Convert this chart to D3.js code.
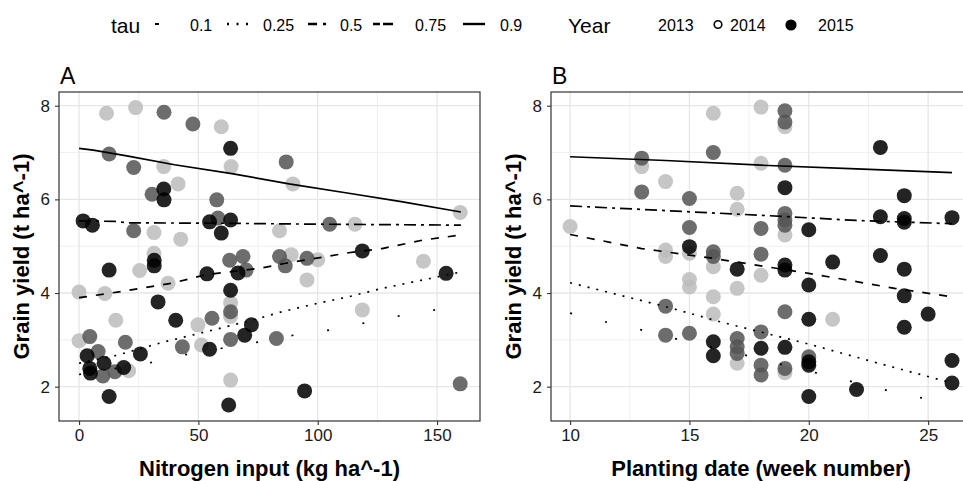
<!DOCTYPE html>
<html>
<head>
<meta charset="utf-8">
<script src="https://cdn.jsdelivr.net/npm/d3@7"></script>
<style>
  body { margin: 0; background: #fff; }
  text { font-family: "Liberation Sans", Arial, sans-serif; }
</style>
</head>
<body>
<div id="chart"></div>
<script>
// legend entries
const tauLevels = ['0.1', '0.25', '0.5', '0.75', '0.9'];
const years = ['2013', '2014', '2015'];

// panel A: nitrogen input (kg ha^-1) vs grain yield
const nitro2013 = [[11.5,7.84],[23.7,7.96],[59.6,7.55],[35.5,6.70],[63.7,6.70],[41.5,6.33],[89.6,6.33],
  [31.4,5.29],[42.6,5.15],[84,5.33],[115.6,5.47],[159.7,5.72],[31.4,4.85],[88.9,4.82],[100,4.71],
  [144.3,4.68],[25.4,4.48],[0,4.02],[10.8,3.99],[37.3,4.21],[95.5,4.28],[63.5,3.79],[63.5,3.5],[49.8,3.32],
  [15.4,3.42],[0,2.98],[51.3,2.89],[20.8,2.34],[63.5,2.14],[118.7,3.64]];
const nitro2014 = [[35.6,7.86],[47.7,7.61],[12.6,6.97],[22.9,6.68],[86.8,6.80],[30.6,6.11],[57.7,5.99],
  [22.9,5.33],[58.2,5.60],[105,5.47],[63.1,4.70],[68.7,4.78],[84,4.78],[86.4,4.58],[95.5,4.74],[70,4.49],
  [63.5,3.60],[55.7,3.46],[4.5,3.07],[19.4,2.95],[63.5,3.01],[82.7,3.03],[43.3,2.85],[8,2.75],[10,2.23],
  [15,2.32],[159.7,2.06]];
const nitro2015 = [[63.5,7.09],[35.5,6.22],[35.6,5.99],[1.7,5.54],[5.6,5.45],[54.7,5.52],[59.6,5.28],
  [63.5,5.56],[31.5,4.70],[31.5,4.58],[12.6,4.49],[53.6,4.41],[66.6,4.43],[118.7,4.90],[153.8,4.42],
  [33.1,3.81],[63.5,4.06],[40.5,3.42],[72.2,3.32],[69.4,3.10],[54.7,2.80],[25.7,2.70],[3.4,2.66],
  [10.5,2.50],[4.5,2.39],[4.8,2.29],[18.7,2.41],[12.6,1.79],[62.7,1.61],[94.5,1.91]];

// panel A quantile regression lines
const nitroTau01 = [[0,2.26],[32,2.53],[46,2.70],[77,2.97],[92,3.12],[108,3.23],[123,3.40],[138,3.55],[153,3.67],[160,3.72]];
const nitroTau025 = [[0,2.50],[15,2.66],[36,2.96],[53,3.17],[74,3.44],[85,3.60],[99,3.77],[113,3.92],[127,4.10],[147,4.31],[160,4.45]];
const nitroTau05 = [[0,3.90],[16,4.02],[39,4.21],[53,4.39],[76,4.53],[86,4.63],[99,4.74],[113,4.86],[127,4.95],[144,5.13],[160,5.24]];
const nitroTau075 = [[0,5.54],[15,5.53],[20,5.50],[60,5.49],[100,5.47],[160,5.45]];
const nitroTau09 = [[0,7.09],[6,7.05],[20,6.93],[40,6.74],[64,6.55],[88,6.33],[113,6.13],[135,5.95],[160,5.73]];

// panel B: planting week vs grain yield
const week2013 = [[16,7.84],[18,7.97],[13,6.70],[14,6.38],[17,6.13],[17,5.79],[18,6.77],[10,5.42],[14,4.92],
  [14,4.78],[15,4.85],[16,4.56],[18,4.38],[15,4.29],[15,4.13],[16,3.92],[17,4.10],[16,3.55],[17,2.50],
  [19,7.55],[19,5.24],[21,3.44],[19,2.30]];
const week2014 = [[16,7.0],[13,6.88],[13,6.16],[15,6.02],[15,5.40],[16,4.88],[18,5.38],[18,4.83],[19,7.89],
  [19,7.65],[19,6.73],[19,5.70],[19,5.56],[19,5.45],[14,3.72],[14,3.10],[15,3.14],[17,3.03],[17,2.85],
  [17,2.71],[18,3.17],[18,2.46],[18,2.25],[19,3.60],[19,2.39],[20,2.64],[16,4.78]];
const week2015 = [[15,4.99],[17,4.51],[19,6.25],[19,4.60],[19,4.49],[19,2.84],[16,2.96],[16,2.66],[18,2.82],
  [20,5.35],[20,4.17],[20,3.44],[20,2.53],[20,2.46],[20,1.79],[21,4.66],[22,1.94],[23,7.11],[23,5.63],
  [23,4.80],[24,6.08],[24,5.59],[24,5.51],[24,4.51],[24,3.94],[24,3.27],[25,3.55],[26,5.61],[26,2.56],[26,2.08]];

// panel B quantile regression lines
const weekTau01 = [[10,3.57],[11.6,3.37],[13.1,3.20],[14.6,3.00],[17.6,2.64],[19.1,2.44],[20.6,2.26],[23.6,1.88],[25.1,1.72],[26,1.60]];
const weekTau025 = [[10,4.22],[14,3.71],[16.4,3.37],[20,2.91],[22.7,2.53],[26,2.08]];
const weekTau05 = [[10,5.25],[13,4.95],[15,4.81],[16,4.74],[20,4.42],[23.6,4.10],[26,3.92]];
const weekTau075 = [[10,5.86],[14,5.76],[18,5.66],[22,5.55],[26,5.48]];
const weekTau09 = [[10,6.91],[14,6.83],[18,6.73],[22,6.65],[26,6.57]];

const xTicksA = [0, 50, 100, 150];
const xTicksB = [10, 15, 20, 25];
const yTicks = [2, 4, 6, 8];

// styling
const yearFill = { '2013': '#bdbdbd', '2014': '#555555', '2015': '#000000' };
const tauDash = { '0.1': '2,34', '0.25': '2,7', '0.5': '8,9', '0.75': '12,5,3,5', '0.9': null };

const svg = d3.select('#chart')
  .append('svg')
  .attr('width', 963)
  .attr('height', 481);

const y = d3.scaleLinear().domain([1.267, 8.293]).range([421, 92]);

function drawPanel(opt) {
  const x = d3.scaleLinear().domain(opt.xDomain).range(opt.xRange);
  const g = svg.append('g');
  const [x0, x1] = opt.xRange;

  // minor grid
  const minorX = opt.xTicks.slice(0, -1).map((t, i) => (t + opt.xTicks[i + 1]) / 2);
  const minorY = [3, 5, 7];
  g.selectAll('.minor-x').data(minorX).enter().append('line')
    .attr('x1', d => x(d)).attr('x2', d => x(d)).attr('y1', 92).attr('y2', 421)
    .attr('stroke', '#f0f0f0').attr('stroke-width', 1);
  g.selectAll('.minor-y').data(minorY).enter().append('line')
    .attr('x1', x0).attr('x2', x1).attr('y1', d => y(d)).attr('y2', d => y(d))
    .attr('stroke', '#f0f0f0').attr('stroke-width', 1);
  // major grid
  g.selectAll('.major-x').data(opt.xTicks).enter().append('line')
    .attr('x1', d => x(d)).attr('x2', d => x(d)).attr('y1', 92).attr('y2', 421)
    .attr('stroke', '#e6e6e6').attr('stroke-width', 1.3);
  g.selectAll('.major-y').data(yTicks).enter().append('line')
    .attr('x1', x0).attr('x2', x1).attr('y1', d => y(d)).attr('y2', d => y(d))
    .attr('stroke', '#e6e6e6').attr('stroke-width', 1.3);

  // points
  years.forEach(yr => {
    g.selectAll('.pt' + yr).data(opt.points[yr]).enter().append('circle')
      .attr('cx', d => x(d[0])).attr('cy', d => y(d[1]))
      .attr('r', 7.5)
      .attr('fill', yearFill[yr])
      .attr('fill-opacity', 0.86);
  });

  // quantile lines
  const line = d3.line().x(d => x(d[0])).y(d => y(d[1]));
  tauLevels.forEach(t => {
    g.append('path')
      .attr('d', line(opt.lines[t]))
      .attr('fill', 'none')
      .attr('stroke', '#000')
      .attr('stroke-width', 1.7)
      .attr('stroke-dasharray', tauDash[t]);
  });

  // border
  g.append('rect')
    .attr('x', x0).attr('y', 92).attr('width', x1 - x0).attr('height', 329)
    .attr('fill', 'none').attr('stroke', '#333').attr('stroke-width', 1.2);

  // axes
  const xAxis = d3.axisBottom(x).tickValues(opt.xTicks).tickFormat(d3.format('d')).tickSize(4).tickPadding(4);
  const gx = g.append('g').attr('transform', 'translate(0,421)').call(xAxis);
  gx.select('.domain').remove();
  const yAxis = d3.axisLeft(y).tickValues(yTicks).tickFormat(d3.format('d')).tickSize(4).tickPadding(5);
  const gy = g.append('g').attr('transform', `translate(${x0},0)`).call(yAxis);
  gy.select('.domain').remove();
  [gx, gy].forEach(a => {
    a.selectAll('line').attr('stroke', '#333').attr('stroke-width', 1.1);
    a.selectAll('text').attr('font-size', 17).attr('fill', '#1a1a1a')
      .style('font-family', '"Liberation Sans", Arial, sans-serif');
  });

  // titles
  g.append('text').attr('x', x0 + 1).attr('y', 84).attr('font-size', 23).text(opt.tag);
  g.append('text')
    .attr('x', (x0 + x1) / 2).attr('y', 476)
    .attr('text-anchor', 'middle').attr('font-size', 22).attr('font-weight', 'bold')
    .text(opt.xTitle);
  g.append('text')
    .attr('transform', `translate(${opt.yTitleX},256.5) rotate(-90)`)
    .attr('text-anchor', 'middle').attr('font-size', 22).attr('font-weight', 'bold')
    .text('Grain yield (t ha^-1)');
}

drawPanel({
  tag: 'A', xDomain: [-8.4, 168], xRange: [59, 480], xTicks: xTicksA, yTitleX: 29,
  xTitle: 'Nitrogen input (kg ha^-1)',
  points: { '2013': nitro2013, '2014': nitro2014, '2015': nitro2015 },
  lines: { '0.1': nitroTau01, '0.25': nitroTau025, '0.5': nitroTau05, '0.75': nitroTau075, '0.9': nitroTau09 }
});

drawPanel({
  tag: 'B', xDomain: [9.2, 26.8], xRange: [551, 971.1], xTicks: xTicksB, yTitleX: 521,
  xTitle: 'Planting date (week number)',
  points: { '2013': week2013, '2014': week2014, '2015': week2015 },
  lines: { '0.1': weekTau01, '0.25': weekTau025, '0.5': weekTau05, '0.75': weekTau075, '0.9': weekTau09 }
});

// legend (top)
const leg = svg.append('g');
leg.append('text').attr('x', 111).attr('y', 33).attr('font-size', 21).text('tau');
// key segments as they appear in the picture
const tauKeys = [
  { x1: 155, x2: 159, dash: null },
  { x1: 227, x2: 248, dash: '2,7.5' },
  { x1: 308, x2: 327, dash: '9,6,3,10' },
  { x1: 373, x2: 393, dash: '7,3,10' },
  { x1: 463, x2: 485, dash: null }
];
const tauLabelX = [190, 263, 340, 415, 500];
tauLevels.forEach((t, i) => {
  leg.append('line')
    .attr('x1', tauKeys[i].x1).attr('x2', tauKeys[i].x2).attr('y1', 24).attr('y2', 24)
    .attr('stroke', '#000').attr('stroke-width', i === 0 ? 2 : 2.4)
    .attr('stroke-dasharray', tauKeys[i].dash);
  leg.append('text').attr('x', tauLabelX[i]).attr('y', 31).attr('font-size', 16).text(t);
});

leg.append('text').attr('x', 568).attr('y', 33).attr('font-size', 21).text('Year');
const yearLabelX = [658, 730, 818];
years.forEach((yr, i) => {
  leg.append('text').attr('x', yearLabelX[i]).attr('y', 31).attr('font-size', 16).text(yr);
});
leg.append('circle').attr('cx', 718).attr('cy', 24.5).attr('r', 3.8)
  .attr('fill', 'none').attr('stroke', '#000').attr('stroke-width', 1.6);
leg.append('circle').attr('cx', 791).attr('cy', 25).attr('r', 5.6).attr('fill', '#000');
</script>
</body>
</html>
